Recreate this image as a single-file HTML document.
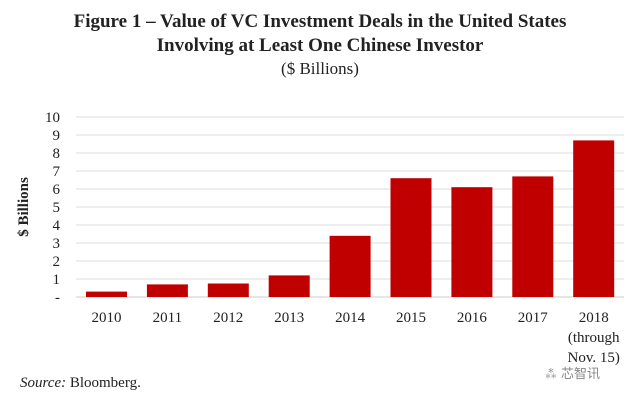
<!DOCTYPE html>
<html><head><meta charset="utf-8"><style>
body{margin:0;background:#fff;width:640px;height:400px;overflow:hidden}
svg{display:block}
text{font-family:"Liberation Serif",serif;fill:#222}
</style></head><body>
<svg id="c" width="640" height="400">
<text x="320" y="27" text-anchor="middle" font-size="19" font-weight="bold">Figure 1 – Value of VC Investment Deals in the United States</text>
<text x="320" y="51" text-anchor="middle" font-size="19" font-weight="bold">Involving at Least One Chinese Investor</text>
<text x="320" y="74" text-anchor="middle" font-size="17">($ Billions)</text>
<text transform="translate(28,207) rotate(-90)" text-anchor="middle" font-size="15" font-weight="bold">$ Billions</text>
<g id="grid"></g><g id="bars"></g><g id="labels"></g>
<text x="20" y="387" font-size="15"><tspan font-style="italic">Source:</tspan> Bloomberg.</text>
<text x="600" y="378" text-anchor="end" font-size="13" style="fill:#888;font-family:'Liberation Sans','Noto Sans CJK SC',sans-serif">⁂ 芯智讯</text>
</svg>
<script>
const categories=["2010","2011","2012","2013","2014","2015","2016","2017","2018"];
const values=[0.3,0.7,0.75,1.2,3.4,6.6,6.1,6.7,8.7];
const yTicks=[0,1,2,3,4,5,6,7,8,9,10];
const yTickLabels=["-","1","2","3","4","5","6","7","8","9","10"];
const NS="http://www.w3.org/2000/svg";
const y0=297,yTop=117,yMax=10,x0=76,step=60.9,bw=41;
function yS(v){return y0-(y0-yTop)*v/yMax}
function xS(i){return x0+10+i*step}
const grid=document.getElementById('grid'),bars=document.getElementById('bars'),labels=document.getElementById('labels');
yTicks.forEach((t,i)=>{
 const l=document.createElementNS(NS,'line');
 l.setAttribute('x1',x0);l.setAttribute('x2',624);l.setAttribute('y1',yS(t));l.setAttribute('y2',yS(t));
 l.setAttribute('stroke',t===0?'#ccc':'#ddd');l.setAttribute('stroke-width','1');
 
 
 grid.appendChild(l);
 const tx=document.createElementNS(NS,'text');
 tx.setAttribute('x',60);tx.setAttribute('y',yS(t)+5);tx.setAttribute('text-anchor','end');tx.setAttribute('font-size','15');
 tx.textContent=yTickLabels[i];
 
 
 grid.appendChild(tx);
});
categories.forEach((c,i)=>{
 const r=document.createElementNS(NS,'rect');
 r.setAttribute('x',xS(i));r.setAttribute('width',bw);r.setAttribute('y',yS(values[i]));r.setAttribute('height',y0-yS(values[i]));
 r.setAttribute('fill','#c00000');
 
 
 bars.appendChild(r);
 const lines=i===8?[c,"(through","Nov. 15)"]:[c];
 lines.forEach((s,k)=>{
  const t=document.createElementNS(NS,'text');
  t.setAttribute('x',xS(i)+bw/2);t.setAttribute('y',322+k*20);t.setAttribute('text-anchor','middle');t.setAttribute('font-size','15');
  t.textContent=s;
  
  
  labels.appendChild(t);
 });
});
</script>
</body></html>
